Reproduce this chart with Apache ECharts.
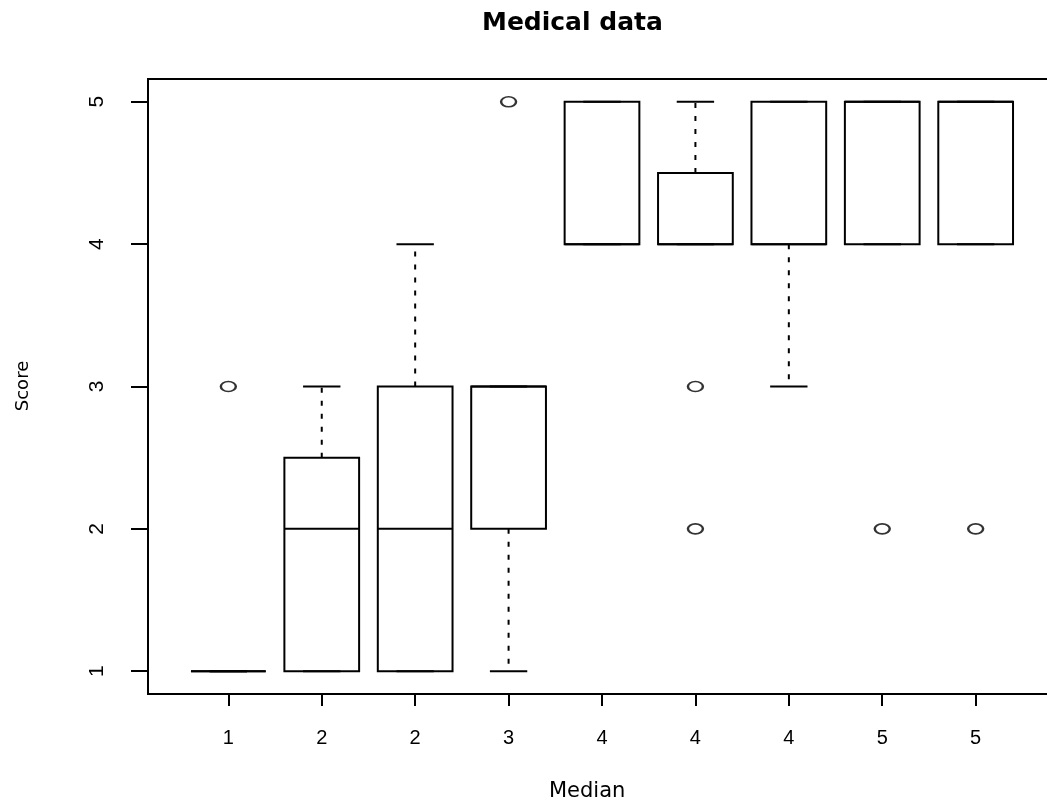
<!DOCTYPE html>
<html>
<head>
<meta charset="utf-8">
<title>Medical data</title>
<script src="https://cdn.jsdelivr.net/npm/echarts@6/dist/echarts.min.js"></script>
<style>
  html, body { margin: 0; padding: 0; background: #fff; overflow: hidden; }
  /* 比窗口略宽，右边框落在画面外 */
  #chart { width: 1060px; height: 806px; }
</style>
</head>
<body>
<div id="chart"></div>
<script>
// 分组标签（每组的中位数）
const labels = ['1', '2', '2', '3', '4', '4', '4', '5', '5'];
// 箱线图五数
const lowV = [1, 1, 1, 1, 4, 4, 3, 4, 4];
const q1V = [1, 1, 1, 2, 4, 4, 4, 4, 4];
const medV = [1, 2, 2, 3, 4, 4, 4, 5, 5];
const q3V = [1, 2.5, 3, 3, 5, 4.5, 5, 5, 5];
const highV = [1, 3, 4, 3, 5, 5, 5, 5, 5];
// 异常值 [组序号, 分数]
const outliers = [[1, 3], [4, 5], [6, 3], [6, 2], [8, 2], [9, 2]];
const yTicks = [1, 2, 3, 4, 5];

const boxData = labels.map((l, i) => [i + 1, lowV[i], q1V[i], medV[i], q3V[i], highV[i]]);
const xTicks = labels.map((l, i) => i + 1);

const lineStyle = { stroke: '#000', lineWidth: 2, fill: null };
const dashStyle = { stroke: '#000', lineWidth: 2, lineDash: [5, 8], fill: null };

function renderBox(params, api) {
  const x = api.value(0);
  const pLow = api.coord([x, api.value(1)]);
  const pQ1 = api.coord([x, api.value(2)]);
  const pMed = api.coord([x, api.value(3)]);
  const pQ3 = api.coord([x, api.value(4)]);
  const pHigh = api.coord([x, api.value(5)]);
  const half = api.size([0.8, 0])[0] / 2;
  const cap = half / 2;
  const cx = pMed[0];
  const children = [];
  // 须线（虚线）
  if (pHigh[1] < pQ3[1]) {
    children.push({ type: 'line', shape: { x1: cx, y1: pQ3[1], x2: cx, y2: pHigh[1] }, style: dashStyle });
  }
  if (pLow[1] > pQ1[1]) {
    children.push({ type: 'line', shape: { x1: cx, y1: pQ1[1], x2: cx, y2: pLow[1] }, style: dashStyle });
  }
  // 须端横线
  children.push({ type: 'line', shape: { x1: cx - cap, y1: pHigh[1], x2: cx + cap, y2: pHigh[1] }, style: lineStyle });
  children.push({ type: 'line', shape: { x1: cx - cap, y1: pLow[1], x2: cx + cap, y2: pLow[1] }, style: lineStyle });
  // 箱体与中位线
  children.push({
    type: 'rect',
    shape: { x: cx - half, y: pQ3[1], width: half * 2, height: pQ1[1] - pQ3[1] },
    style: lineStyle
  });
  children.push({ type: 'line', shape: { x1: cx - half, y1: pMed[1], x2: cx + half, y2: pMed[1] }, style: lineStyle });
  return { type: 'group', children: children };
}

const chart = echarts.init(document.getElementById('chart'), null, { renderer: 'canvas' });

chart.setOption({
  backgroundColor: '#fff',
  animation: false,
  title: {
    text: 'Medical data',
    left: 477,
    top: 6,
    textStyle: { fontFamily: 'DejaVu Sans', fontWeight: 'bold', fontSize: 25, color: '#000' }
  },
  graphic: [
    {
      type: 'text',
      left: 549,
      top: 781,
      style: { text: 'Median', font: '21px "DejaVu Sans"', fill: '#000' }
    },
    {
      type: 'text',
      x: 23,
      y: 386,
      rotation: Math.PI / 2,
      style: { text: 'Score', font: '18px "DejaVu Sans"', fill: '#000', align: 'center', verticalAlign: 'middle' }
    }
  ],
  grid: {
    left: 148,
    top: 79,
    width: 908,
    height: 615,
    show: true,
    borderColor: '#000',
    borderWidth: 2,
    backgroundColor: 'transparent'
  },
  xAxis: {
    type: 'value',
    min: 0.14,
    max: 9.86,
    axisLine: { show: false },
    splitLine: { show: false },
    axisTick: { show: true, length: 12, lineStyle: { color: '#000', width: 2 }, customValues: xTicks },
    axisLabel: {
      customValues: xTicks,
      margin: 34,
      color: '#000',
      fontFamily: 'Liberation Sans',
      fontSize: 20,
      formatter: v => labels[Math.round(v) - 1]
    }
  },
  yAxis: {
    type: 'value',
    min: 0.84,
    max: 5.16,
    axisLine: { show: false },
    splitLine: { show: false },
    axisTick: { show: true, length: 17, lineStyle: { color: '#000', width: 2 }, customValues: yTicks },
    axisLabel: {
      customValues: yTicks,
      rotate: 90,
      margin: 40,
      color: '#000',
      fontFamily: 'Liberation Sans',
      fontSize: 21
    }
  },
  series: [
    {
      type: 'custom',
      renderItem: renderBox,
      encode: { x: 0, y: [1, 2, 3, 4, 5] },
      data: boxData,
      clip: false
    },
    {
      type: 'scatter',
      data: outliers,
      symbol: 'circle',
      symbolSize: [15, 10],
      itemStyle: { color: 'transparent', borderColor: '#000', borderWidth: 2 },
      clip: false
    }
  ]
});
</script>
</body>
</html>
